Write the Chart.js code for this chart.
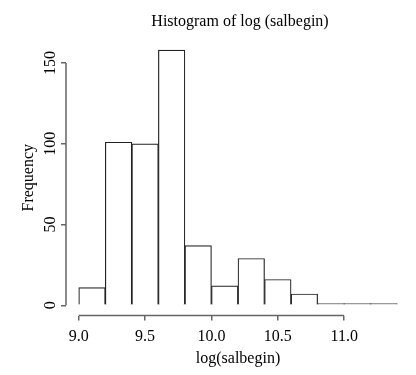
<!DOCTYPE html>
<html>
<head>
<meta charset="utf-8">
<script src="https://cdn.jsdelivr.net/npm/chart.js@4/dist/chart.umd.min.js"></script>
<style>
html,body{margin:0;padding:0;background:#fff;}
canvas{display:block;}
</style>
</head>
<body>
<canvas id="c" width="416" height="375"></canvas>
<script>
// Histogram data
const breaks = [9.0, 9.2, 9.4, 9.6, 9.8, 10.0, 10.2, 10.4, 10.6, 10.8, 11.0, 11.2, 11.4];
const counts = [11, 101, 100, 158, 37, 12, 29, 16, 7, 1, 1, 1];
const xTicks = [9.0, 9.5, 10.0, 10.5, 11.0];
const yTicks = [0, 50, 100, 150];
const titleText = 'Histogram of log (salbegin)';
const xTitle = 'log(salbegin)';
const yTitle = 'Frequency';

const points = counts.map((c, i) => ({ x: (breaks[i] + breaks[i + 1]) / 2, y: c }));
const xr = breaks[breaks.length - 1] - breaks[0];
const yMaxData = Math.max(...counts);

const FONT = "'Liberation Serif', 'DejaVu Serif', serif";
Chart.defaults.font.family = FONT;
Chart.defaults.font.size = 16;
Chart.defaults.color = '#000';

const axisLines = {
  id: 'axisLines',
  afterDraw(chart) {
    const ctx = chart.ctx, xs = chart.scales.x, ys = chart.scales.y, a = chart.chartArea;
    ctx.save();
    ctx.strokeStyle = '#666';
    ctx.lineWidth = 1.5;
    ctx.beginPath();
    ctx.moveTo(xs.getPixelForValue(xTicks[0]), a.bottom);
    ctx.lineTo(xs.getPixelForValue(xTicks[xTicks.length - 1]), a.bottom);
    ctx.moveTo(a.left, ys.getPixelForValue(yTicks[0]));
    ctx.lineTo(a.left, ys.getPixelForValue(yTicks[yTicks.length - 1]));
    ctx.stroke();
    // main title centred over the plot region
    ctx.fillStyle = '#000';
    ctx.font = '16px ' + FONT;
    ctx.textAlign = 'center';
    ctx.textBaseline = 'alphabetic';
    ctx.fillText(titleText, (a.left + a.right) / 2 + 2, 26);
    ctx.restore();
  }
};

new Chart(document.getElementById('c'), {
  type: 'bar',
  data: {
    datasets: [{
      data: points,
      backgroundColor: '#ffffff',
      borderColor: '#222222',
      borderWidth: 1.2,
      barPercentage: 1,
      categoryPercentage: 1
    }]
  },
  options: {
    responsive: false,
    animation: false,
    layout: { padding: { left: 0, right: 6, top: 40, bottom: 0 } },
    plugins: {
      legend: { display: false },
      tooltip: { enabled: false },
      title: { display: false }
    },
    scales: {
      x: {
        type: 'linear',
        offset: false,
        min: breaks[0] - 0.04 * xr,
        max: breaks[breaks.length - 1] + 0.04 * xr,
        afterBuildTicks(s) { s.ticks = xTicks.map(v => ({ value: v })); },
        afterFit(s) { s.height = 59.5; },
        ticks: {
          callback: v => Number(v).toFixed(1),
          padding: 7,
          maxRotation: 0,
          minRotation: 0,
          font: { size: 16 }
        },
        grid: { offset: false, drawOnChartArea: false, drawTicks: true, tickLength: 5, color: '#666', lineWidth: 1.5 },
        border: { display: false },
        title: { display: true, text: xTitle, font: { size: 16 }, padding: { top: 2, bottom: 7 } }
      },
      y: {
        type: 'linear',
        min: -0.04 * yMaxData,
        max: yMaxData * 1.04,
        afterBuildTicks(s) { s.ticks = yTicks.map(v => ({ value: v })); },
        afterFit(s) { s.width = 66; },
        ticks: {
          minRotation: 90,
          maxRotation: 90,
          crossAlign: 'center',
          padding: -2,
          font: { size: 16 }
        },
        grid: { drawOnChartArea: false, drawTicks: true, tickLength: 5, color: '#666', lineWidth: 1.5 },
        border: { display: false },
        title: { display: true, text: yTitle, font: { size: 16 }, padding: { top: 19, bottom: 0 } }
      }
    }
  },
  plugins: [axisLines]
});
</script>
</body>
</html>
